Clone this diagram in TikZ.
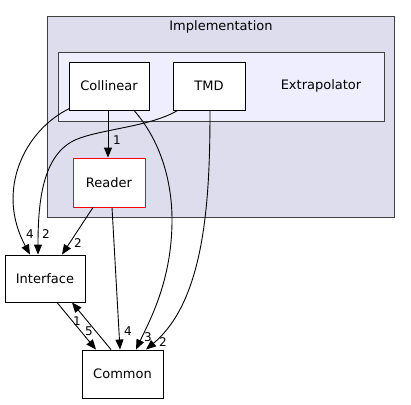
\documentclass[tikz,border=0pt]{standalone}
\usepackage{fontspec}
\setmainfont{DejaVu Sans}
\usetikzlibrary{arrows.meta,calc}
\definecolor{outerfill}{HTML}{DDDDEE}
\definecolor{innerfill}{HTML}{EEEEFF}
\definecolor{bordergray}{HTML}{404040}
\begin{document}
\begin{tikzpicture}[x=1pt,y=-1pt,
  every node/.style={font=\fontsize{13}{15}\selectfont},
  dirbox/.style={draw=black,fill=white,line width=0.9pt,inner sep=0pt},
  edge/.style={draw=black,line width=0.9pt,-{Triangle[length=10pt,width=8pt]}},
  lbl/.style={inner sep=0pt,font=\fontsize{12}{14}\selectfont}]
\useasboundingbox (0,0) rectangle (411,404);
% Implementation cluster
\node[draw=bordergray,fill=outerfill,line width=0.9pt,minimum width=347pt,minimum height=201pt,inner sep=0pt] (impl) at (220.5,116.5) {};
\node (impltitle) at (221,27) {Implementation};
% Extrapolator cluster
\node[draw=bordergray,fill=innerfill,line width=0.9pt,minimum width=326pt,minimum height=69pt,inner sep=0pt] (extra) at (221,86.5) {};
\node (extratitle) at (321,86) {Extrapolator};
% nodes
\node[dirbox,minimum width=80pt,minimum height=48pt] (coll) at (109,86) {Collinear};
\node[dirbox,minimum width=72pt,minimum height=48pt] (tmd) at (209,86) {TMD};
\node[dirbox,draw=red,minimum width=72pt,minimum height=49pt] (reader) at (109,182.5) {Reader};
\node[dirbox,minimum width=80pt,minimum height=47pt] (iface) at (45,278.5) {Interface};
\node[dirbox,minimum width=81pt,minimum height=48pt] (common) at (122.5,374) {Common};
% edges
\draw[edge] ($(coll.south)+(-1,0)$) -- ($(reader.north)+(-1,0)$);
\node[lbl] (l1) at (117,140) {1};
\draw[edge] ($(coll.south west)+(1,-2)$) .. controls (25,130) and (-5,190) .. ($(iface.north)+(-15,0)$);
\node[lbl] (l2) at (30,234) {4};
\draw[edge] ($(tmd.south west)+(5,0)$) .. controls (150,127) and (100,129) .. (75,140) .. controls (43,155) and (38,200) .. ($(iface.north)+(-7,0)$);
\node[lbl] (l3) at (46,234) {2};
\draw[edge] ($(reader.south)+(-16,0)$) -- ($(iface.north)+(17,0)$);
\node[lbl] (l4) at (78,243) {2};
\draw[edge] ($(reader.south)+(3,0)$) -- ($(common.north)+(-2.5,0)$);
\node[lbl] (l5) at (128,331) {4};
\draw[edge] ($(coll.south)+(25,0)$) .. controls (160,140) and (172,180) .. (172,220) .. controls (172,280) and (150,320) .. ($(common.north)+(13.5,0)$);
\node[lbl] (l6) at (148,337) {3};
\draw[edge] ($(tmd.south)+(1,0)$) .. controls (210,200) and (205,300) .. ($(common.north)+(23.5,0)$);
\node[lbl] (l7) at (163,342) {2};
\draw[edge] ($(iface.south)+(12,0)$) -- ($(common.north)+(-26.5,0)$);
\node[lbl] (l8) at (89,331) {5};
\draw[edge] ($(common.north)+(-11.5,0)$) -- ($(iface.south)+(27,0)$);
\node[lbl] (l9) at (77,321) {1};
\end{tikzpicture}
\end{document}
